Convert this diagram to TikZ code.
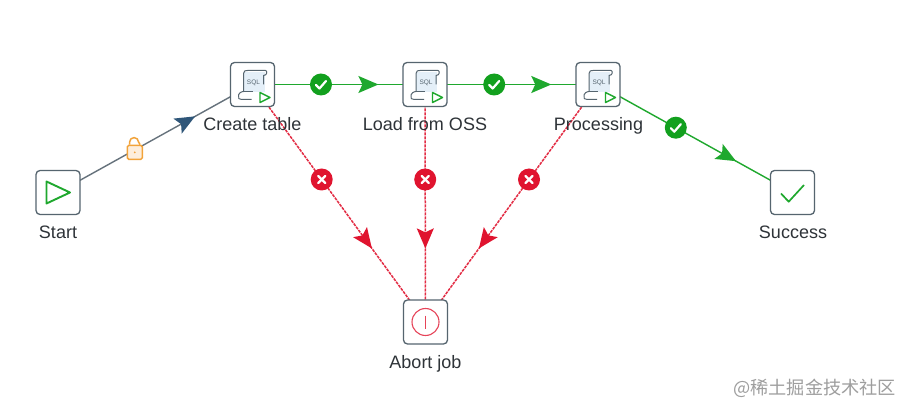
\documentclass[tikz,border=0pt]{standalone}
\usepackage{fontspec}
\setmainfont{Liberation Sans}
\newfontfamily\cjkwm{Noto Sans CJK SC}
\usetikzlibrary{arrows.meta,decorations.markings,backgrounds,calc}
\definecolor{boxgrey}{HTML}{56656F}
\definecolor{hopgrey}{HTML}{66727C}
\definecolor{hopblue}{HTML}{2F5679}
\definecolor{okgreen}{HTML}{1FA82E}
\definecolor{badgegreen}{HTML}{12A01E}
\definecolor{badred}{HTML}{E0142F}
\definecolor{lockor}{HTML}{F2A33A}
\definecolor{scrollblue}{HTML}{E4EFF8}
\definecolor{textgrey}{HTML}{2E3338}
\tikzset{
  jobbox/.style={draw=boxgrey,line width=1.3pt,rounded corners=4pt,fill=white,minimum size=44pt,inner sep=0pt},
  caption/.style={font=\fontsize{18}{20}\selectfont,text=textgrey,inner sep=0pt,anchor=base},
  midhead/.style n args={2}{postaction={decorate,decoration={markings,mark=at position #1 with {\arrow[#2]{Stealth[length=20pt,width=17pt,inset=4pt]}}}}},
  blueedge/.style={draw=hopgrey,line width=1.4pt,midhead={.705}{hopblue}},
  greenedge/.style={draw=okgreen,line width=1.4pt,midhead={#1}{okgreen}},
  rededge/.style={draw=badred!90!white,line width=1.5pt,dash pattern=on 3pt off 1pt,midhead={#1}{badred,solid}},
  okbadge/.style={circle,fill=badgegreen,minimum size=22pt,inner sep=0pt},
  badbadge/.style={circle,fill=badred,minimum size=22pt,inner sep=0pt},
  lockbody/.style={draw=lockor,line width=1.5pt,fill=lockor!18,rounded corners=1.5pt,minimum width=15pt,minimum height=14pt,inner sep=0pt},
  pics/sqlicon/.style={code={
    \fill[scrollblue] (-9,-12) rectangle (12,8);
    \draw[boxgrey,line width=1pt,line join=round] (-14,13) .. controls (-15,8) and (-10,7) .. (-9,7) -- (-9,-11) .. controls (-9,-14) and (-7,-14) .. (-5,-14) -- (13,-14) .. controls (15,-14) and (15,-9) .. (11,-9) -- (11,0);
    \draw[boxgrey,line width=1pt] (-14,13) .. controls (-14,15) and (-12,15) .. (-1,15);
    \draw[boxgrey,line width=1pt] (-9,7) -- (0,7);
    \node[text=boxgrey,inner sep=0pt,font=\fontsize{6.5}{7}\selectfont] at (1,-2) {SQL};
    \draw[okgreen,line width=1.4pt,line join=round,fill=white] (7.5,8) -- (17.5,13) -- (7.5,18) -- cycle;
  }},
  okmark/.style={draw=white,line width=2.2pt,line cap=round,line join=round},
  badmark/.style={draw=white,line width=2.4pt,line cap=round}
}
\begin{document}
\begin{tikzpicture}[x=1pt,y=-1pt]
\useasboundingbox (0,0) rectangle (908,414);
\begin{scope}[on background layer]
\fill[white] (0,0) rectangle (908,414);
\end{scope}
% jobs
\node[jobbox] (start) at (58,192.5) {};
\node[jobbox] (create) at (252.5,84.5) {};
\node[jobbox] (load) at (425,84.5) {};
\node[jobbox] (proc) at (598,84.5) {};
\node[jobbox] (succ) at (792.5,192.5) {};
\node[jobbox] (abort) at (425.5,322) {};
% icons
\draw[okgreen,line width=1.9pt,line join=round] ($(start)+(-11.5,-11)$) -- ($(start)+(12,0)$) -- ($(start)+(-11.5,11)$) -- cycle;
\pic at (create) {sqlicon};
\pic at (load) {sqlicon};
\pic at (proc) {sqlicon};
\draw[okgreen,line width=1.7pt,line join=round] ($(succ)+(-11.5,1)$) -- ($(succ)+(-3.8,9.2)$) -- ($(succ)+(11.5,-7.5)$);
\draw[badred!80!white,line width=1.1pt] (abort) circle[radius=13.5pt];
\draw[badred!80!white,line width=1.1pt] ($(abort)+(0,-6.5)$) -- ($(abort)+(0,6.5)$);
% hops
\begin{scope}[on background layer]
\draw[blueedge] (start.center) -- (create.center);
\draw[greenedge=.73] (create.center) -- (load.center);
\draw[greenedge=.73] (load.center) -- (proc.center);
\draw[greenedge=.71] (proc.center) -- (succ.center);
\draw[rededge=.69] (create.center) -- (abort.center);
\draw[rededge=.69] (load.center) -- (abort.center);
\draw[rededge=.69] (proc.center) -- (abort.center);
\end{scope}
% lock
\node[lockbody] (lock) at ($(start)!.395!(create)+(0,2.5)$) {};
\draw[lockor,line width=1.5pt] ($(lock.north west)+(3,0)$) -- ++(0,-2.5) arc[start angle=180,end angle=0,radius=4.5pt] -- ($(lock.north east)+(-3,0)$);
\fill[lockor] (lock) circle[radius=1pt];
% green badges
\foreach \n/\a/\b/\p in {k1/create/load/.397,k2/load/proc/.4,k3/proc/succ/.4}{
  \node[okbadge] (\n) at ($(\a)!\p!(\b)$) {};
  \draw[okmark] ($(\n)+(-5,0.5)$) -- ($(\n)+(-1.5,4)$) -- ($(\n)+(5,-3.5)$);
}
% red badges
\foreach \n/\a/\b/\p in {x1/create/abort/.4,x2/load/abort/.4,x3/proc/abort/.4}{
  \node[badbadge] (\n) at ($(\a)!\p!(\b)$) {};
  \draw[badmark] ($(\n)+(-3.5,-3.5)$) -- ($(\n)+(3.5,3.5)$);
  \draw[badmark] ($(\n)+(-3.5,3.5)$) -- ($(\n)+(3.5,-3.5)$);
}
% captions
\node[caption] (tstart) at (58,238.5) {Start};
\node[caption] (tcreate) at (252.5,130.5) {Create table};
\node[caption] (tload) at (425,130.5) {Load from OSS};
\node[caption] (tproc) at (598.5,130.5) {Processing};
\node[caption] (tsucc) at (793,238.5) {Success};
\node[caption] (tabort) at (425.5,368.5) {Abort job};
% watermark
\node[inner sep=0pt,anchor=base west,text=black!38,font=\fontsize{18.2}{20}\selectfont\cjkwm] (wm) at (733,394) {@稀土掘金技术社区};
\end{tikzpicture}
\end{document}
